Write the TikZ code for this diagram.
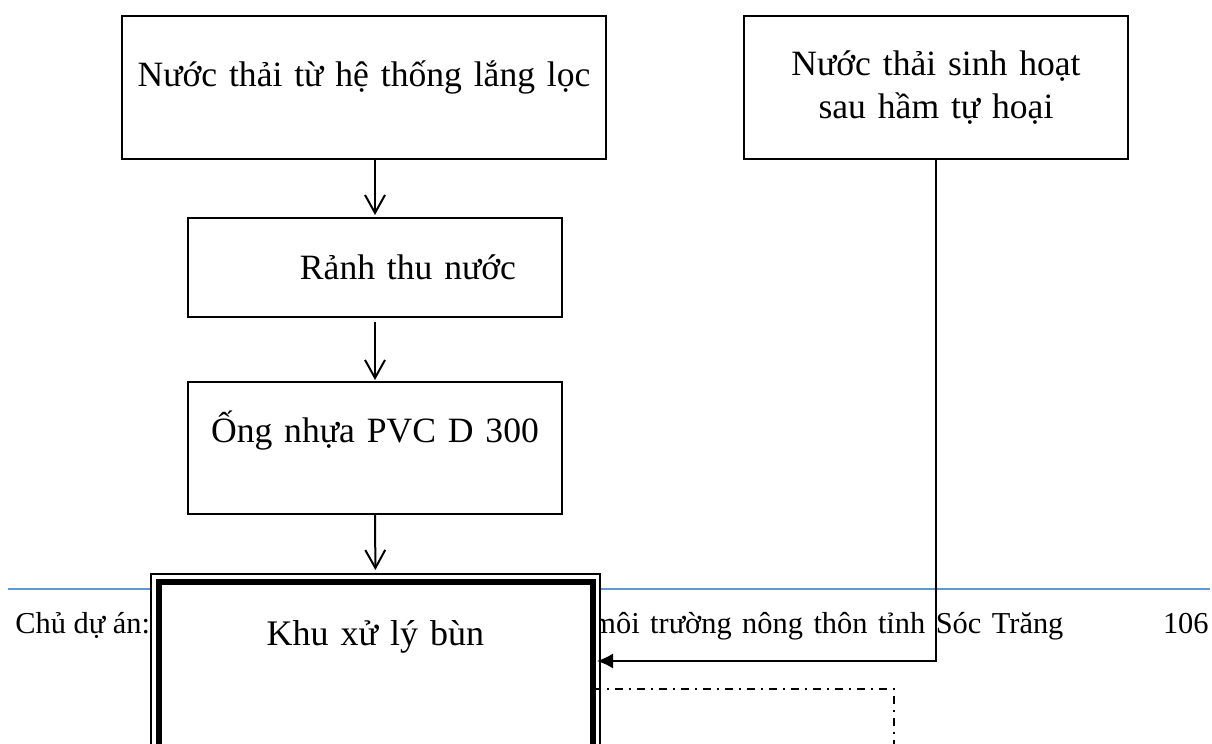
\documentclass[tikz,border=0pt]{standalone}
\usepackage{fontspec}
\setmainfont{Liberation Serif}
\usetikzlibrary{arrows.meta,calc}
\definecolor{footblue}{HTML}{5B9BD5}
\begin{document}
\begin{tikzpicture}[x=0.5pt,y=-0.5pt,
  box/.style={draw, line width=0.75pt, inner sep=0pt, outer sep=0pt, align=center,
    fill=white, font=\fontsize{17.8}{21.5}\selectfont},
  heavybox/.style={draw, line width=3pt, inner sep=0pt, outer sep=0pt, align=center,
    fill=white, font=\fontsize{18}{21.5}\selectfont,
    preaction={draw=black, line width=8.25pt},
    preaction={draw=white, line width=6.75pt}},
  flow/.style={line width=1pt, -{Straight Barb[length=9pt,width=10pt,line width=1pt]}},
  feed/.style={line width=0.75pt, -{Latex[length=8pt,width=7.5pt]}},
  dashdot/.style={line width=0.75pt, dash pattern=on 4pt off 3pt on 1pt off 3pt},
  foot/.style={inner sep=0pt, font=\fontsize{15.2}{17}\selectfont},
  footline/.style={draw=footblue, line width=0.75pt}
]
\useasboundingbox (0,0) rectangle (1212,744);
\clip (0,0) rectangle (1212,744);

% footer (page furniture, partly hidden by the boxes)
\coordinate (fl) at (8,589);
\coordinate (fr) at (1210,589);
\draw[footline] (fl) -- (fr);
\node[foot, anchor=base west] (f1) at (15,633) {Chủ dự án:};
\node[foot, anchor=base west] (f2) at (592,633)
  {\makebox[235.5pt][s]{môi trường nông thôn tỉnh Sóc Trăng}};
\node[foot, anchor=base east] (f3) at (1209,633) {106};

% boxes
\node[box, text width=242pt, text height=35pt, text depth=36.5pt] (b1) at (364,87.5)
  {Nước thải từ hệ thống lắng lọc};
\node[box, text width=187pt, text height=30.5pt, text depth=19pt] (b2) at (375,267.5)
  {\hspace*{33pt}Rảnh thu nước};
\node[box, text width=187pt, text height=30pt, text depth=36pt] (b3) at (375,448)
  {Ống nhựa PVC D 300};
\node[box, text width=192pt, minimum height=71.5pt] (b4) at (936,87.5)
  {Nước thải sinh hoạt\\sau hầm tự hoại};
\node[heavybox, text width=217pt, text height=31.75pt, text depth=127.5pt] (khu) at (375.5,740.75)
  {Khu xử lý bùn};

% connectors
\draw[flow, shorten >=1.5pt] (b1.south -| b2.north) -- (b2.north);
\draw[flow, shorten <=2.5pt, shorten >=1pt] (b2.south) -- (b3.north);
\draw[flow, shorten >=5.75pt] (b3.south) -- (khu.north);

\coordinate (inlet) at (597,661);
\draw[feed] (b4.south) |- (inlet);

\coordinate (dd) at (894,689);
\coordinate (ddend) at (894,760);
\draw[dashdot] (khu.east |- dd) -- (dd) -- (ddend);
\end{tikzpicture}
\end{document}
